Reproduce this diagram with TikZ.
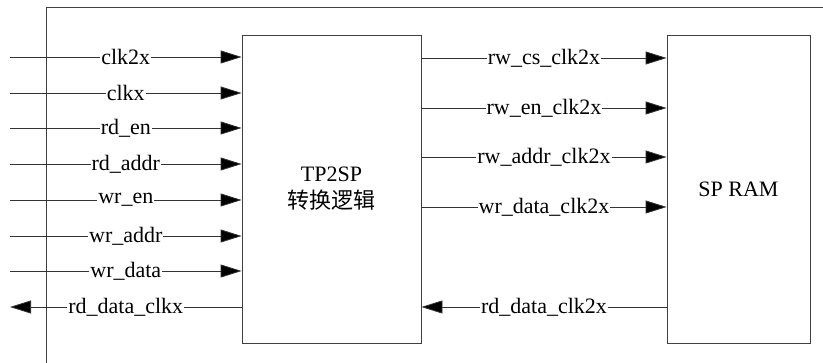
\documentclass[tikz,border=0pt]{standalone}
\usepackage{fontspec}
\setmainfont{Liberation Serif}
\newfontfamily\cjk{Noto Sans CJK SC}
\usepackage{tikz}
\usetikzlibrary{arrows.meta,positioning,calc}

\begin{document}
\begin{tikzpicture}[x=1pt, y=-1pt, font=\fontsize{22}{27}\selectfont,
    blk/.style={draw=black!75, line width=0.8pt, inner sep=0pt, align=center},
    sig/.style={draw=black!80, line width=0.8pt, -{Triangle[length=21pt,width=13pt,fill=black]}},
    lbl/.style={fill=white, inner sep=1pt, midway}]
            \useasboundingbox (0,0) rectangle (823,363);

            % Cadre
            \draw[black!75, line width=0.8pt] (46,363) -- (46,7) -- (823,7);

            % Blocs
            \node[blk, minimum width=179pt, minimum height=308pt] (tp2sp) at (331.5,189) {TP2SP\\{\cjk 转换逻辑}};
            \node[blk, minimum width=143pt, minimum height=308pt] (spram) at (738.5,189) {SP RAM};

            % Entrées
            \coordinate (clkdx) at (10,57);
            \coordinate (clkx) at (10,93);
            \coordinate (rden) at (10,128);
            \coordinate (rdaddr) at (10,164);
            \coordinate (wren) at (10,200);
            \coordinate (wraddr) at (10,236);
            \coordinate (wrdata) at (10,271);
            \coordinate (rddata) at (10,307);

            \draw[sig] (clkdx) -- (clkdx -| tp2sp.west) node[lbl] {clk2x};
            \draw[sig] (clkx) -- (clkx -| tp2sp.west) node[lbl] {clkx};
            \draw[sig] (rden) -- (rden -| tp2sp.west) node[lbl] {rd\_en};
            \draw[sig] (rdaddr) -- (rdaddr -| tp2sp.west) node[lbl] {rd\_addr};
            \draw[sig] (wren) -- (wren -| tp2sp.west) node[lbl] {wr\_en};
            \draw[sig] (wraddr) -- (wraddr -| tp2sp.west) node[lbl] {wr\_addr};
            \draw[sig] (wrdata) -- (wrdata -| tp2sp.west) node[lbl] {wr\_data};
            \draw[sig] (rddata -| tp2sp.west) -- (rddata) node[lbl] {rd\_data\_clkx};

            % Vers la SP RAM
            \draw[sig] ($(tp2sp.east) + (0,-131)$) -- ($(spram.west) + (0,-131)$) node[lbl] {rw\_cs\_clk2x};
            \draw[sig] ($(tp2sp.east) + (0,-81)$) -- ($(spram.west) + (0,-81)$) node[lbl] {rw\_en\_clk2x};
            \draw[sig] ($(tp2sp.east) + (0,-32)$) -- ($(spram.west) + (0,-32)$) node[lbl] {rw\_addr\_clk2x};
            \draw[sig] ($(tp2sp.east) + (0,18)$) -- ($(spram.west) + (0,18)$) node[lbl] {wr\_data\_clk2x};
            \draw[sig] ($(spram.west) + (0,118)$) -- ($(tp2sp.east) + (0,118)$) node[lbl] {rd\_data\_clk2x};
        \end{tikzpicture}
\end{document}
